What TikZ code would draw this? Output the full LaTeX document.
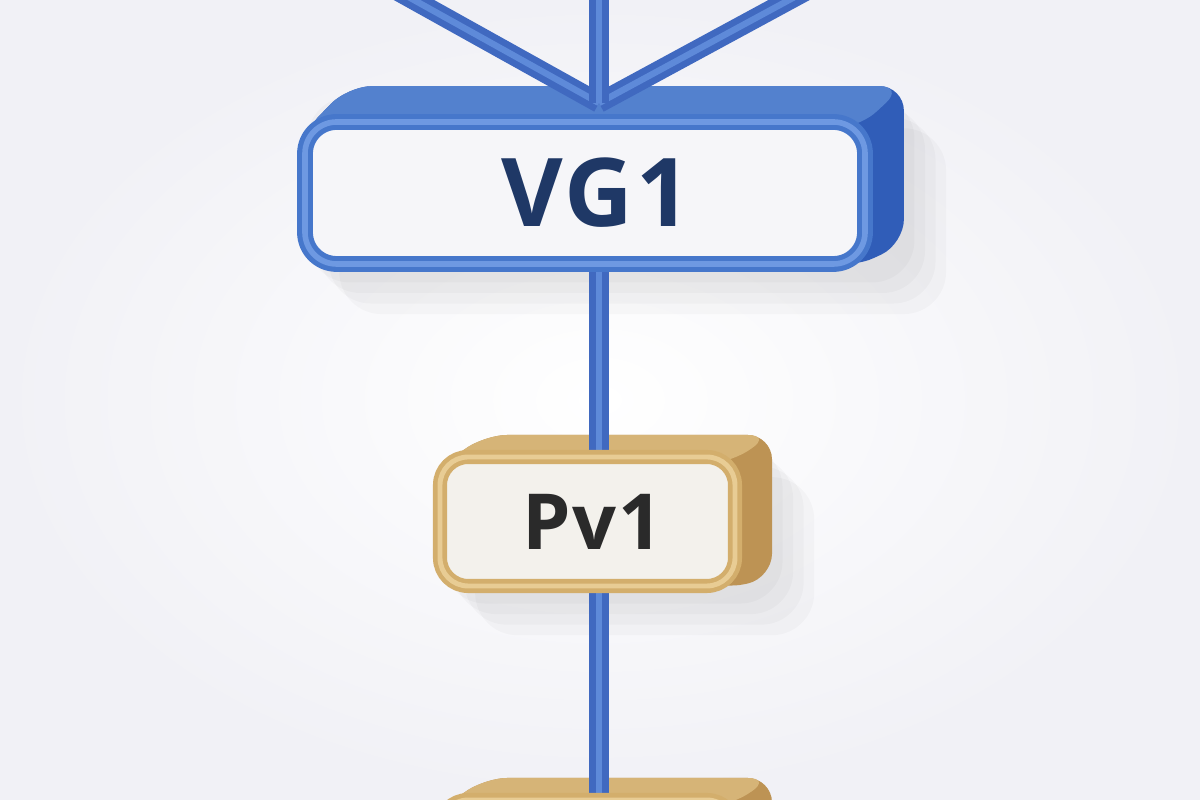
\documentclass[tikz,border=0pt]{standalone}
\usepackage{fontspec}
\setsansfont{Open Sans}
\usetikzlibrary{calc,positioning}
\pgfdeclarelayer{back}
\pgfdeclarelayer{mid}
\pgfsetlayers{back,mid,main}

\definecolor{bg}{HTML}{F1F1F6}
\definecolor{wireblue}{HTML}{4069C0}
\definecolor{wirelight}{HTML}{5E8AD9}
\definecolor{vgblue}{HTML}{4677CB}
\definecolor{vglight}{HTML}{6E99E2}
\definecolor{vgside}{HTML}{305DB8}
\definecolor{vgtop}{HTML}{5381CE}
\definecolor{vgtext}{HTML}{1F3866}
\definecolor{pvgold}{HTML}{D3AE6C}
\definecolor{pvlight}{HTML}{E8CC94}
\definecolor{pvside}{HTML}{BD9354}
\definecolor{pvtop}{HTML}{D6B477}
\definecolor{pvtext}{HTML}{2A2A2A}
\definecolor{vgface}{HTML}{F6F6F9}
\definecolor{pvface}{HTML}{F3F1EC}

% depth of a box: node, shift, side colour, top colour
\newcommand\extrude[4]{%
  \foreach \s in {3,6,9,12}
    \fill[black, opacity=0.022, rounded corners=12pt] ($(#1.south west)+(\s pt,-\s pt)$) rectangle ($(#1.north east)+(#2)+(\s pt,-\s pt)$);
  \fill[#3, rounded corners=7pt] ($(#1.north west)+(1pt,-6pt)$) -- ($(#1.north west)+(#2)+(0.2,0)$) -- ($(#1.north east)+(#2)$) -- ($(#1.south east)+(#2)$) -- ($(#1.south east)+(-6pt,1pt)$) -- cycle;
  \fill[#4, rounded corners=7pt] ($(#1.north west)+(1pt,-6pt)$) -- ($(#1.north west)+(#2)+(0.2,0)$) -- ($(#1.north east)+(#2)$) -- ($(#1.north east)+(-4pt,-4pt)$) -- cycle;
}

\begin{document}
\begin{tikzpicture}[
    wire/.style={draw=wireblue, line width=5.6pt, postaction={draw=wirelight, line width=1.8pt}},
    vgbox/.style={draw=vgblue, fill=vgface, line width=4.5pt, rounded corners=9pt,
      postaction={draw=vglight, line width=1.6pt},
      minimum width=5.6cm, minimum height=1.42cm,
      font=\sffamily\bfseries\fontsize{27}{31}\selectfont\addfontfeatures{LetterSpace=3}, text=vgtext},
    pvbox/.style={draw=pvgold, fill=pvface, line width=4pt, rounded corners=8pt,
      postaction={draw=pvlight, line width=1.4pt},
      minimum width=2.95cm, minimum height=1.29cm,
      font=\sffamily\bfseries\fontsize{22}{26}\selectfont\addfontfeatures{LetterSpace=2}, text=pvtext}
  ]
\useasboundingbox (0,0) rectangle (12,8);
\begin{pgfonlayer}{back}
  \shade[inner color=white, outer color=bg] (0,0) rectangle (12,8);
\end{pgfonlayer}

% boxes
\node[vgbox] (vg) at (5.85,6.07) {\kern0.22cm VG1};
\node[pvbox] (pv) at (5.875,2.785) {\kern0.1cm Pv1};
\node[pvbox] (pvnext) at (5.875,-0.645) {};

\begin{pgfonlayer}{back}
  \extrude{vg}{0.31,0.28}{vgside}{vgtop}
  \extrude{pv}{0.30,0.15}{pvside}{pvtop}
  \extrude{pvnext}{0.30,0.15}{pvside}{pvtop}
\end{pgfonlayer}

% wires
\coordinate (axis) at (5.99,0);
\coordinate (vgin) at (5.99,6.97);
\coordinate (inleft) at (3.78,8.2);
\coordinate (inmid) at (5.99,8.2);
\coordinate (inright) at (8.26,8.2);
\begin{pgfonlayer}{mid}
  \draw[wire] (inleft) -- (vgin);
  \draw[wire] (inright) -- (vgin);
  \draw[wire] (inmid) -- (vgin);
  \draw[wire] (vg.south -| axis) -- (pv.north -| axis);
  \draw[wire] (pv.south -| axis) -- (pvnext.north -| axis);
\end{pgfonlayer}

\end{tikzpicture}
\end{document}
